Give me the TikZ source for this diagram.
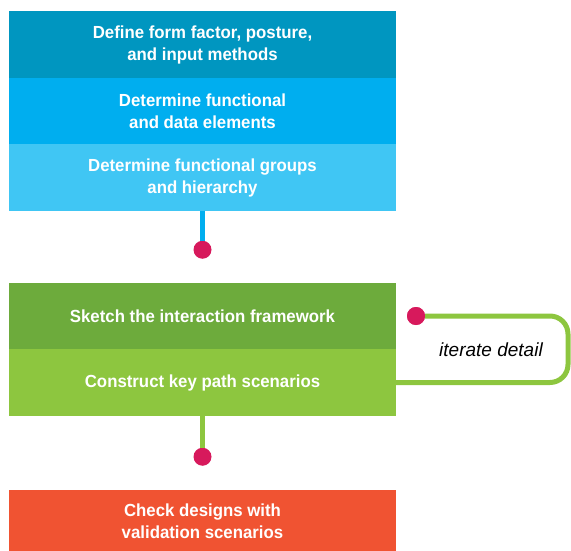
\documentclass[tikz,border=0pt]{standalone}
\usepackage{fontspec}
\setmainfont{Liberation Sans}
\newfontfamily\stepfont[FakeStretch=0.96]{Liberation Sans}
\usetikzlibrary{positioning}

\definecolor{formblue}{RGB}{0,150,192}
\definecolor{elemblue}{RGB}{0,174,239}
\definecolor{groupblue}{RGB}{64,198,244}
\definecolor{sketchgreen}{RGB}{109,171,60}
\definecolor{pathgreen}{RGB}{141,198,63}
\definecolor{checkred}{RGB}{240,83,50}
\definecolor{dotred}{RGB}{215,25,92}

\begin{document}
\begin{tikzpicture}[x=1pt, y=-1pt,
		box/.style={minimum width=387pt, minimum height=66.5pt, inner sep=0pt, outer sep=0pt, text=white, align=center, font={\stepfont\bfseries\fontsize{17.5}{22}\selectfont}},
		dot/.style={circle, fill=dotred, minimum size=18pt, inner sep=0pt, outer sep=0pt},
		stem/.style={line width=5pt}]
		\useasboundingbox (0,0) rectangle (571,551);

		% blue steps
		\node[box, fill=formblue] (form) at (202.5,44.5) {Define form factor, posture,\\and input methods};
		\node[box, fill=elemblue, below=0pt of form] (elements) {Determine functional\\and data elements};
		\node[box, fill=groupblue, below=0pt of elements] (groups) {Determine functional groups\\and hierarchy};
		\node[dot, below=30pt of groups] (dotA) {};

		% green steps
		\node[box, fill=sketchgreen, below=24pt of dotA] (sketch) {Sketch the interaction framework};
		\node[box, fill=pathgreen, below=0pt of sketch] (construct) {Construct key path scenarios};
		\node[dot, below=32pt of construct] (dotB) {};
		\node[dot, right=11pt of sketch] (loopdot) {};
		\node[font={\fontsize{19}{22}\selectfont\itshape}] (iterate) at (491,350) {iterate detail};

		% last step
		\node[box, fill=checkred, minimum height=62pt, below=24pt of dotB] (check) {Check designs with\\validation scenarios};

		\draw[stem, elemblue] (groups.south) -- (dotA.north);
		\draw[stem, pathgreen] (construct.south) -- (dotB.north);
		\draw[stem, pathgreen, rounded corners=18pt] (loopdot.east) -- ++(143,0) |- (construct.east);
		\node[dot] at (loopdot) {};
	\end{tikzpicture}
\end{document}
